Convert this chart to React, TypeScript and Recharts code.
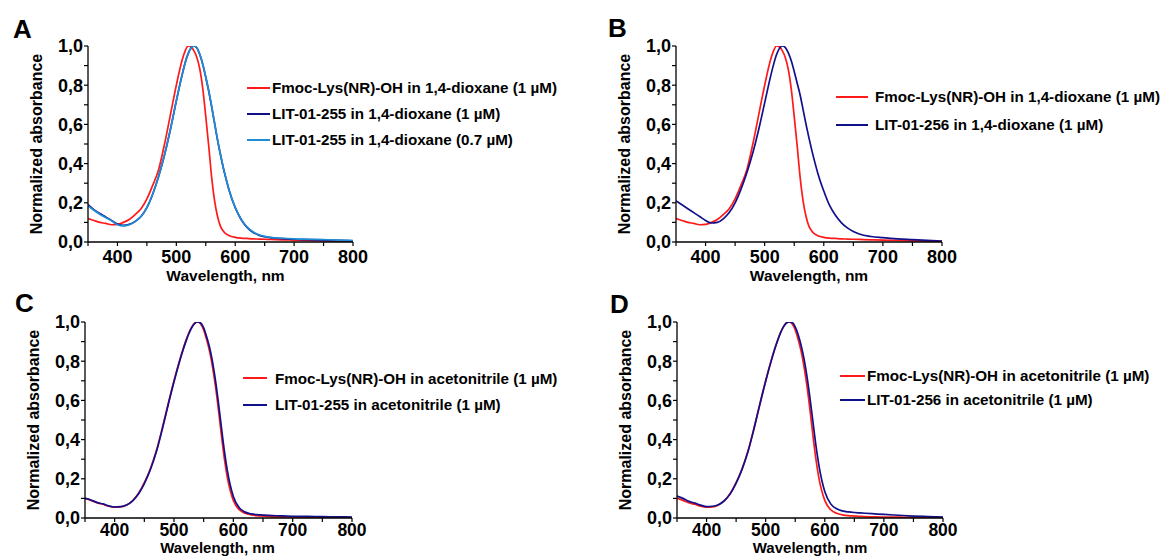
import { Legend, Line, LineChart, XAxis, YAxis } from "recharts";

const FONT = '"Liberation Sans", Arial, sans-serif';

// wavelength grid, nm
const wavelengths = [
  350, 360, 370, 380, 390, 400, 410, 420, 430, 440, 450, 460, 470, 480, 490, 500,
  510, 515, 520, 525, 530, 535, 540, 545, 550, 555, 560, 565, 570, 575, 580, 585, 590,
  600, 610, 620, 630, 640, 650, 660, 680, 700, 725, 750, 775, 800,
];

// 1,4-dioxane
const fmocDioxane = [
  0.12, 0.11, 0.1, 0.095, 0.088, 0.09, 0.1, 0.115, 0.14, 0.17, 0.22, 0.29, 0.37, 0.5, 0.65, 0.8,
  0.93, 0.975, 1.0, 0.995, 0.975, 0.94, 0.88, 0.78, 0.64, 0.49, 0.33, 0.21, 0.13, 0.08, 0.055, 0.04, 0.032,
  0.024, 0.02, 0.018, 0.016, 0.015, 0.014, 0.013, 0.011, 0.01, 0.008, 0.006, 0.004, 0.003,
];
const lit255Dioxane1uM = [
  0.19, 0.165, 0.145, 0.128, 0.11, 0.092, 0.085, 0.09, 0.105, 0.13, 0.175, 0.245, 0.335, 0.445, 0.575, 0.72,
  0.855, 0.915, 0.96, 0.99, 1.0, 0.99, 0.955, 0.905, 0.84, 0.77, 0.69, 0.605, 0.52, 0.445, 0.375, 0.315, 0.26,
  0.175, 0.115, 0.075, 0.05, 0.035, 0.027, 0.022, 0.017, 0.014, 0.012, 0.01, 0.008, 0.006,
];
const lit255Dioxane07uM = [
  0.185, 0.162, 0.142, 0.125, 0.108, 0.088, 0.082, 0.088, 0.104, 0.13, 0.176, 0.246, 0.336, 0.446, 0.576, 0.72,
  0.856, 0.915, 0.961, 0.99, 1.0, 0.99, 0.956, 0.906, 0.842, 0.772, 0.692, 0.607, 0.522, 0.447, 0.377, 0.317, 0.262,
  0.177, 0.117, 0.077, 0.052, 0.037, 0.029, 0.024, 0.019, 0.016, 0.014, 0.012, 0.01, 0.007,
];
const lit256Dioxane = [
  0.21, 0.19, 0.17, 0.15, 0.13, 0.11, 0.097, 0.1, 0.118, 0.15, 0.2, 0.27, 0.355, 0.455, 0.575, 0.71,
  0.845, 0.905, 0.955, 0.988, 1.0, 0.992, 0.965, 0.925, 0.87, 0.81, 0.75, 0.675, 0.6, 0.53, 0.465, 0.405, 0.35,
  0.26, 0.185, 0.135, 0.098, 0.072, 0.054, 0.041, 0.028, 0.022, 0.016, 0.012, 0.008, 0.005,
];

// acetonitrile
const fmocAcetonitrile = [
  0.1, 0.09, 0.078, 0.07, 0.06, 0.055, 0.056, 0.066, 0.088, 0.125, 0.18, 0.25, 0.34, 0.455, 0.58, 0.7,
  0.81, 0.86, 0.905, 0.945, 0.975, 0.995, 1.0, 0.99, 0.96, 0.91, 0.85, 0.77, 0.67, 0.55, 0.42, 0.3, 0.205,
  0.09, 0.042, 0.024, 0.016, 0.012, 0.01, 0.008, 0.006, 0.005, 0.004, 0.003, 0.003, 0.002,
];
const lit255Acetonitrile = [
  0.1, 0.092, 0.08, 0.072, 0.062, 0.056, 0.058, 0.066, 0.086, 0.122, 0.176, 0.245, 0.335, 0.45, 0.575, 0.695,
  0.805, 0.855, 0.9, 0.94, 0.972, 0.993, 1.0, 0.995, 0.97, 0.925, 0.87, 0.795, 0.7, 0.585, 0.46, 0.34, 0.24,
  0.11, 0.052, 0.03, 0.021, 0.017, 0.015, 0.013, 0.011, 0.009, 0.008, 0.007, 0.006, 0.005,
];
const lit256Acetonitrile = [
  0.112, 0.1, 0.085, 0.076, 0.066, 0.058, 0.06, 0.068, 0.088, 0.123, 0.178, 0.248, 0.338, 0.452, 0.577, 0.698,
  0.808, 0.858, 0.903, 0.943, 0.975, 0.995, 1.0, 0.997, 0.975, 0.935, 0.88, 0.81, 0.72, 0.61, 0.49, 0.37, 0.27,
  0.135, 0.072, 0.047, 0.036, 0.031, 0.028, 0.026, 0.022, 0.018, 0.014, 0.01, 0.007, 0.004,
];

const xTicks = [350, 400, 450, 500, 550, 600, 650, 700, 750, 800];
const yTicks = [0, 0.1, 0.2, 0.3, 0.4, 0.5, 0.6, 0.7, 0.8, 0.9, 1.0];

const RED = "#ff1a1a";
const NAVY = "#10108a";
const SKY = "#1f8dd6";

type Series = { name: string; values: number[]; color: string };

interface PanelProps {
  left: number;
  top: number;
  width: number;
  height: number;
  margin: { top: number; right: number; bottom: number; left: number };
  series: Series[];
  legend: { left: number; top: number; rowH: number; lineW: number; gap: number };
  xLabel: { dx: number; baseline: number; size: number };
  xTickFont: number;
  xTickMargin: number;
}

const renderXLabel = (cfg: { dx: number; baseline: number; size: number }) => (props: any) => {
  const vb = props.viewBox || { x: 0, y: 0, width: 0, height: 0 };
  return (
    <text
      x={vb.x + vb.width / 2 + cfg.dx}
      y={vb.y + cfg.baseline}
      textAnchor="middle"
      fontSize={cfg.size}
      fontWeight={700}
      fontFamily={FONT}
      fill="#000"
    >
      Wavelength, nm
    </text>
  );
};

const renderYLabel = (props: any) => {
  const vb = props.viewBox || { x: 0, y: 0, width: 0, height: 0 };
  const cx = vb.x + vb.width - 52;
  const cy = vb.y + vb.height / 2;
  return (
    <text
      x={cx}
      y={cy}
      dy="0.36em"
      transform={`rotate(-90, ${cx}, ${cy})`}
      textAnchor="middle"
      fontSize={16}
      fontWeight={700}
      fontFamily={FONT}
      fill="#000"
    >
      Normalized absorbance
    </text>
  );
};

// keep the legend rows in series order (s0, s1, s2)
const renderLegend = (rowH: number, lineW: number, gap: number) => (props: any) => {
  const items = (props.payload || [])
    .slice()
    .sort((a: any, b: any) => String(a.dataKey).localeCompare(String(b.dataKey)));
  return (
    <div style={{ fontFamily: FONT, fontWeight: 700, fontSize: 15.2, color: "#000" }}>
      {items.map((p: any, i: number) => (
        <div key={i} style={{ display: "flex", alignItems: "center", height: rowH, whiteSpace: "nowrap" }}>
          <span style={{ display: "inline-block", width: lineW, height: 2, background: p.color, marginRight: gap }} />
          <span>{p.value}</span>
        </div>
      ))}
    </div>
  );
};

function Panel(p: PanelProps) {
  const data = wavelengths.map((wl, i) => {
    const row: Record<string, number> = { wl };
    p.series.forEach((s, k) => {
      row["s" + k] = s.values[i];
    });
    return row;
  });

  return (
    <div style={{ position: "absolute", left: p.left, top: p.top }}>
      <LineChart width={p.width} height={p.height} data={data} margin={p.margin}>
        <XAxis
          type="number"
          dataKey="wl"
          domain={[350, 800]}
          ticks={xTicks}
          interval={0}
          allowDataOverflow
          height={30}
          tickSize={4}
          tickMargin={p.xTickMargin}
          axisLine={{ stroke: "#000", strokeWidth: 1.3 }}
          tickLine={{ stroke: "#000", strokeWidth: 1.2 }}
          tick={{ fill: "#000", fontSize: p.xTickFont, fontWeight: 700, fontFamily: FONT }}
          tickFormatter={(v: number) => (v % 100 === 0 ? String(v) : "")}
          label={renderXLabel(p.xLabel)}
        />
        <YAxis
          type="number"
          domain={[0, 1]}
          ticks={yTicks}
          interval={0}
          allowDataOverflow
          width={60}
          tickSize={4}
          tickMargin={1}
          axisLine={{ stroke: "#000", strokeWidth: 1.3 }}
          tickLine={{ stroke: "#000", strokeWidth: 1.2 }}
          tick={{ fill: "#000", fontSize: 18, fontWeight: 700, fontFamily: FONT }}
          tickFormatter={(v: number) =>
            Math.round(v * 10) % 2 === 0 ? v.toFixed(1).replace(".", ",") : ""
          }
          label={renderYLabel}
        />
        <Legend
          layout="vertical"
          align="center"
          verticalAlign="middle"
          wrapperStyle={{ left: p.legend.left, top: p.legend.top, width: 330 }}
          content={renderLegend(p.legend.rowH, p.legend.lineW, p.legend.gap)}
        />
        {p.series.map((s, k) => (
          <Line
            key={k}
            type="monotone"
            dataKey={"s" + k}
            name={s.name}
            stroke={s.color}
            strokeWidth={1.7}
            dot={false}
            activeDot={false}
            isAnimationActive={false}
          />
        ))}
      </LineChart>
    </div>
  );
}

const letterStyle = (left: number, top: number): React.CSSProperties => ({
  position: "absolute",
  left,
  top,
  fontFamily: FONT,
  fontWeight: 700,
  fontSize: 26,
  lineHeight: 1,
  color: "#000",
});

export default function App() {
  return (
    <div
      style={{
        position: "absolute",
        left: 0,
        top: 0,
        width: 1165,
        height: 557,
        background: "#fff",
        overflow: "hidden",
      }}
    >
      <Panel
        left={0}
        top={0}
        width={585}
        height={285}
        margin={{ top: 46, left: 28, right: 232, bottom: 13 }}
        series={[
          { name: "Fmoc-Lys(NR)-OH in 1,4-dioxane (1 µM)", values: fmocDioxane, color: RED },
          { name: "LIT-01-255 in 1,4-dioxane (1 µM)", values: lit255Dioxane1uM, color: NAVY },
          { name: "LIT-01-255 in 1,4-dioxane (0.7 µM)", values: lit255Dioxane07uM, color: SKY },
        ]}
        legend={{ left: 247, top: 74.5, rowH: 26, lineW: 23, gap: 2 }}
        xLabel={{ dx: 5, baseline: 38.6, size: 15.5 }}
        xTickFont={18}
        xTickMargin={4}
      />
      <Panel
        left={590}
        top={0}
        width={575}
        height={285}
        margin={{ top: 46, left: 26, right: 223, bottom: 13 }}
        series={[
          { name: "Fmoc-Lys(NR)-OH in 1,4-dioxane (1 µM)", values: fmocDioxane, color: RED },
          { name: "LIT-01-256 in 1,4-dioxane (1 µM)", values: lit256Dioxane, color: NAVY },
        ]}
        legend={{ left: 246, top: 82.5, rowH: 28, lineW: 32, gap: 7 }}
        xLabel={{ dx: 0, baseline: 38.6, size: 15.5 }}
        xTickFont={18}
        xTickMargin={4}
      />
      <Panel
        left={0}
        top={280}
        width={585}
        height={277}
        margin={{ top: 42, left: 25, right: 233, bottom: 9 }}
        series={[
          { name: "Fmoc-Lys(NR)-OH in acetonitrile (1 µM)", values: fmocAcetonitrile, color: RED },
          { name: "LIT-01-255 in acetonitrile (1 µM)", values: lit255Acetonitrile, color: NAVY },
        ]}
        legend={{ left: 243, top: 84.75, rowH: 26.5, lineW: 24, gap: 8 }}
        xLabel={{ dx: -1, baseline: 35.4, size: 15 }}
        xTickFont={17.5}
        xTickMargin={1.5}
      />
      <Panel
        left={590}
        top={280}
        width={575}
        height={277}
        margin={{ top: 42, left: 27, right: 222, bottom: 9 }}
        series={[
          { name: "Fmoc-Lys(NR)-OH in acetonitrile (1 µM)", values: fmocAcetonitrile, color: RED },
          { name: "LIT-01-256 in acetonitrile (1 µM)", values: lit256Acetonitrile, color: NAVY },
        ]}
        legend={{ left: 250, top: 83.5, rowH: 24, lineW: 25, gap: 2 }}
        xLabel={{ dx: 0, baseline: 35.4, size: 15 }}
        xTickFont={17.5}
        xTickMargin={1.5}
      />
      <div style={letterStyle(13, 16)}>A</div>
      <div style={letterStyle(608, 15)}>B</div>
      <div style={letterStyle(15, 290)}>C</div>
      <div style={letterStyle(610, 291)}>D</div>
    </div>
  );
}
